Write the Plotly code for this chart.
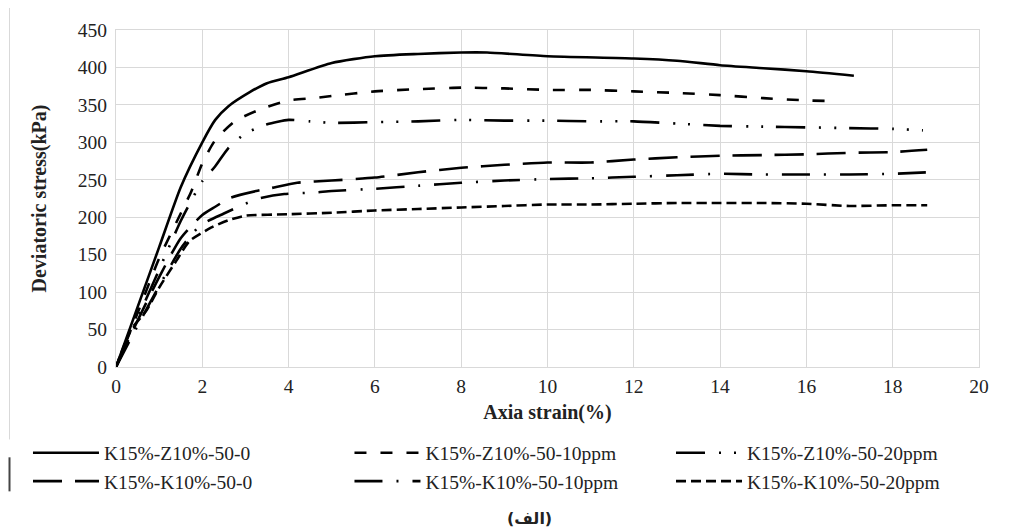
import plotly.graph_objects as go

# ---- data ----
x_z0 = [0, 0.5, 1, 1.5, 2, 2.3, 2.6, 3.1, 3.5, 4, 5, 6, 7, 8, 8.6, 10, 12, 13, 14, 15, 16, 17.1]
y_z0 = [0, 80, 160, 240, 300, 330, 348, 367, 379, 387, 406, 415, 418, 420, 420, 415, 412, 409, 403, 399, 395, 389]

x_z10 = [0, 0.5, 1, 1.5, 1.75, 2, 2.3, 2.75, 3.3, 4, 4.6, 5, 6, 7, 8, 9, 10, 11, 12, 13, 14, 15, 16, 16.7]
y_z10 = [0, 72, 145, 205, 235, 272, 303, 328, 343, 356, 359, 362, 368, 371, 373, 372, 370, 370, 368, 366, 363, 359, 356, 355]

x_z20 = [0, 0.5, 1, 1.5, 1.8, 2, 2.3, 2.6, 3, 3.5, 4, 4.5, 5, 6, 7, 8, 9, 10, 11, 12, 13, 14, 15, 16, 17, 18, 18.7]
y_z20 = [0, 65, 130, 195, 228, 248, 268, 292, 312, 324, 330, 328, 326, 327, 328, 330, 329, 329, 328, 328, 325, 322, 321, 320, 319, 318, 316]

x_k0 = [0, 0.5, 1, 1.5, 2, 2.3, 2.65, 3.25, 3.6, 4.2, 5, 6, 7, 8, 9, 10, 11, 12, 13, 14, 15, 16, 17, 18, 18.8]
y_k0 = [0, 62, 120, 172, 203, 214, 226, 235, 239, 246, 249, 253, 260, 266, 270, 273, 273, 277, 280, 282, 283, 284, 286, 287, 290]

x_k10 = [0, 0.5, 1, 1.5, 1.8, 2, 2.5, 3, 3.3, 3.9, 4.6, 5, 6, 7, 8, 9, 10, 11, 12, 13, 14, 15, 16, 17, 18, 18.8]
y_k10 = [0, 55, 108, 158, 180, 191, 205, 218, 225, 231, 233, 235, 238, 242, 246, 249, 251, 252, 254, 256, 258, 257, 257, 257, 258, 260]

x_k20 = [0, 0.35, 0.7, 1, 1.4, 1.7, 2.2, 2.6, 3, 4, 5, 6, 7, 8, 9, 10, 11, 12, 13, 14, 15, 16, 17, 18, 18.8]
y_k20 = [0, 50, 75, 106, 142, 168, 186, 196, 202, 204, 206, 209, 211, 213, 215, 217, 217, 218, 219, 219, 219, 218, 215, 216, 216]

names = ["K15%-Z10%-50-0", "K15%-Z10%-50-10ppm", "K15%-Z10%-50-20ppm",
         "K15%-K10%-50-0", "K15%-K10%-50-10ppm", "K15%-K10%-50-20ppm"]
xs = [x_z0, x_z10, x_z20, x_k0, x_k10, x_k20]
ys = [y_z0, y_z10, y_z20, y_k0, y_k10, y_k20]
dashes = ["solid", "12px,14px", "29px,14px,2px,13px,2px,13px",
          "29px,13px", "28px,14px,2px,14px", "10px,5px"]

tick_x = [0, 2, 4, 6, 8, 10, 12, 14, 16, 18, 20]
tick_y = [0, 50, 100, 150, 200, 250, 300, 350, 400, 450]

SERIF = "Liberation Serif"

fig = go.Figure()
for n, x, y, d in zip(names, xs, ys, dashes):
    fig.add_trace(go.Scatter(x=x, y=y, mode="lines", name=n,
                             line=dict(color="black", width=2.6, dash=d, shape="spline", smoothing=0.6)))

fig.update_layout(
    width=1017, height=531,
    margin=dict(l=108, r=46, t=20, b=172),
    paper_bgcolor="white", plot_bgcolor="white",
    font=dict(family=SERIF, size=19, color="#222"),
    showlegend=True,
    legend=dict(orientation="h", x=-0.102, xanchor="left", y=-0.1976, yanchor="top",
                itemwidth=66, entrywidth=240.5, entrywidthmode="pixels",
                font=dict(family=SERIF, size=19.5, color="#222"),
                traceorder="normal", bgcolor="rgba(0,0,0,0)"),
    xaxis=dict(range=[0, 20], tickvals=tick_x, showgrid=True, gridcolor="#d9d9d9", gridwidth=1,
               zeroline=False, showline=True, linecolor="#d9d9d9", mirror=True,
               ticks="", ticklabelstandoff=2,
               tickfont=dict(family=SERIF, size=19.5, color="#222"),
               title=dict(text="<b>Axia strain(%)</b>", standoff=8,
                          font=dict(family=SERIF, size=20, color="#222"))),
    yaxis=dict(range=[0, 450], tickvals=tick_y, showgrid=True, gridcolor="#d9d9d9", gridwidth=1,
               zeroline=False, showline=True, linecolor="#d9d9d9", mirror=True,
               ticks="", ticklabelstandoff=4,
               tickfont=dict(family=SERIF, size=19.5, color="#222"),
               title=dict(text="<b>Deviatoric stress(kPa)</b>", standoff=25,
                          font=dict(family=SERIF, size=20, color="#222"))),
)

fig.add_annotation(text="<b>(الف)</b>", xref="paper", yref="paper", x=0.4786, y=-0.4485,
                   xanchor="center", yanchor="middle", showarrow=False,
                   font=dict(family="DejaVu Sans", size=16, color="#222"))

# page border artifacts on the left
fig.add_shape(type="line", xref="paper", yref="paper", x0=-0.1234, x1=-0.1234, y0=1.083, y1=-0.215,
              line=dict(color="#d9d9d9", width=1))
fig.add_shape(type="line", xref="paper", yref="paper", x0=-0.1234, x1=-0.1234, y0=-0.268, y1=-0.369,
              line=dict(color="#444", width=2))

fig.write_html("out.html")
